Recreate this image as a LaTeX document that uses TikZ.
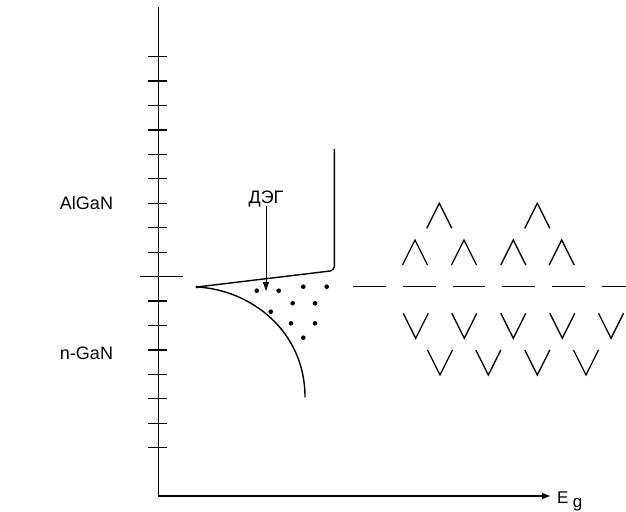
\documentclass[tikz,border=0pt]{standalone}
\usepackage{fontspec}
\setmainfont{Liberation Sans}
\usetikzlibrary{arrows.meta}
\begin{document}
\begin{tikzpicture}[x=1pt,y=-1pt,
  ln/.style={line width=1.1pt,black},
  thick line/.style={line width=1.4pt,black,line join=round,line cap=round},
  lbl/.style={inner sep=0pt,font=\fontsize{17}{20}\selectfont},
  dotmark/.style={fill=black,draw=none},
  chev/.style={line width=1.3pt,black},
  dashseg/.style={line width=1.4pt,black}]
\useasboundingbox (0,0) rectangle (626,511);
% axes
\coordinate (top) at (158.3,7);
\coordinate (orig) at (158.3,496);
\coordinate (xend) at (550,496);
\draw[ln] (top) -- (orig);
\draw[ln,-{Triangle[length=8pt,width=6pt]}] (orig) -- (xend);
% ticks
\foreach \y in {56.7,81,105.5,130,154.3,178.7,203.2,227.7,252.1,301,325.5,350,374.4,398.8,423.3,447.7}
  \draw[ln] (148.3,\y) -- (166.7,\y);
% interface line
\coordinate (ifL) at (140,276.7);
\coordinate (ifR) at (183,276.7);
\draw[ln] (ifL) -- (ifR);
% labels
\node[lbl,font=\fontsize{18}{21}\selectfont] (algan) at (86.5,203) {AlGaN};
\node[lbl,font=\fontsize{18}{21}\selectfont] (ngan) at (86.5,353) {n-GaN};
\node[lbl,font=\fontsize{18}{21}\selectfont] (deg) at (266,199) {ДЭГ};
\node[lbl,anchor=base west] (E) at (557,503) {E};
\node[lbl,anchor=base west] (g) at ([xshift=4pt,yshift=-4pt]E.base east) {g};
% band edge
\coordinate (cTop) at (334.3,149.5);
\coordinate (cCorner) at (334.3,270.5);
\coordinate (tip) at (197,287);
\coordinate (cEnd) at (305,397);
\draw[thick line,rounded corners=4pt] (cTop) -- (cCorner) -- (tip);
\draw[thick line] (tip) .. controls (252,290) and (305,332) .. (cEnd);
\fill (tip) circle (1.6pt);
% arrow from label
\coordinate (arrEnd) at (266,291);
\draw[line width=0.8pt,-{Triangle[length=9pt,width=6pt]}] (deg.south) ++(0,-1) -- (arrEnd);
% electrons
\foreach \p in {(256.7,290.7),(278.7,290.7),(303.3,286.7),(326.7,286.7),(292.7,303.3),(315,303.3),(270.7,311.7),(291,323.3),(315,323.3),(303.3,337.7)}
  \fill[dotmark] \p circle (2.3pt);
% dashed level
\foreach \x in {353.3,403,452.7,502.4,552.1,601.8}
  \draw[dashseg] (\x,286.7) -- ++(32.7,0);
% holes / chevrons up
\foreach \x in {439.3,537.3}
  \draw[chev] (\x-12.5,228.3) -- (\x,203.3) -- (\x+12.5,228.3);
\foreach \x in {415,464,513.3,561.7}
  \draw[chev] (\x-12.5,265) -- (\x,240) -- (\x+12.5,265);
% chevrons down
\foreach \x in {415.7,464.3,513.3,562.3,611}
  \draw[chev] (\x-12.5,313.3) -- (\x,338.3) -- (\x+12.5,313.3);
\foreach \x in {440,488.3,537.3,586}
  \draw[chev] (\x-12.5,350) -- (\x,375) -- (\x+12.5,350);
\end{tikzpicture}
\end{document}
